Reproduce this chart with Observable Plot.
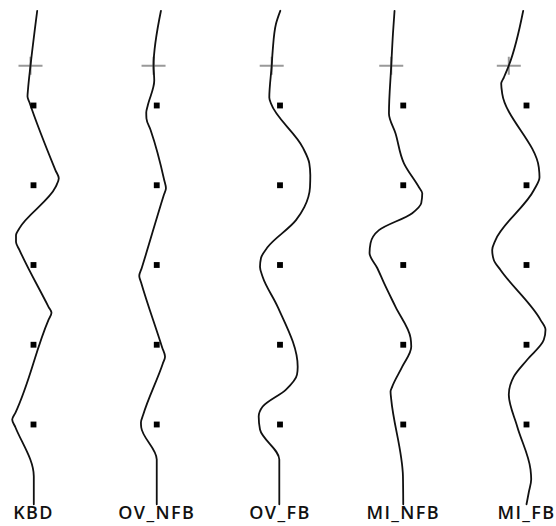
<!DOCTYPE html>
<html>
<head>
<meta charset="utf-8">
<script src="https://cdn.jsdelivr.net/npm/d3@7"></script>
<script src="https://cdn.jsdelivr.net/npm/@observablehq/plot@0.6"></script>
<style>
  html, body { margin: 0; padding: 0; background: #fff; }
  #chart svg { display: block; }
</style>
</head>
<body>
<div id="chart"></div>
<script>
// Panel names (bottom labels)
const names = ["KBD", "OV_NFB", "OV_FB", "MI_NFB", "MI_FB"];

// Each trace: [deviation from panel centre, depth]
const KBD = [[3.7,-15],[-3,40],[-5.5,64],[-6,71],[-4,77],[22,145],[25.3,153],[22,162],[-14,203],[-17.5,210],[-17.5,217],[-14,225],[15,282],[18,288],[15,295],[-18,388],[-21.3,395],[-18,403],[0.3,452],[0.3,480]];
const OV_NFB = [[4.2,-15],[-3.2,40],[-2.5,55],[-9,80],[-10.5,87],[-10.3,93],[-6,105],[7.5,155],[9.2,163],[7,170],[-15,243],[-17.5,251],[-15.5,258],[5.5,323],[8.3,332],[6,339],[-13.5,390],[-15.8,398],[-15.5,403],[0,435],[0,480]];
const OV_FB = [[0.3,-15],[-4,-2],[-7.3,25],[-8.3,40],[-10.7,72],[-9,78],[22.7,122],[29.3,138],[30.3,150],[30,162],[24.3,182],[16,195],[-12.3,222],[-19,233],[-20,242],[-17.3,252],[-2.3,282],[17.7,342],[17,350],[6,365],[-17.3,382],[-21.3,392],[-20,405],[-0.7,435],[-0.7,480]];
const MI_NFB = [[-8.7,-15],[-10.3,8],[-12,40],[-14.3,88],[-7.7,108],[0.7,138],[15.7,162],[19,168],[18,178],[9,188],[-24.3,205],[-32.7,218],[-33.7,228],[-26,243],[-19.3,258],[-7.7,282],[7.3,313],[8,322],[-1,342],[-11,362],[-12.7,367],[-12,375],[-0.3,452],[0,480]];
const MI_FB = [[-3.3,-15],[-17.7,40],[-22.7,52],[-25.3,58],[-24.3,68],[12.3,142],[13,152],[7.3,165],[-31,215],[-34.3,225],[-32.7,235],[-26,245],[14,295],[19,305],[17.3,315],[0.7,335],[-12.7,352],[-17.7,370],[-9.3,402],[4,445],[4.7,455],[2.3,468],[0,480]];
const traces = [KBD, OV_NFB, OV_FB, MI_NFB, MI_FB];

// Square markers (depths) and the grey cross (depth, deviation per panel)
const markerDepths = [80, 160, 240, 320, 400];
const crossDepth = 40;
const crossDev = [-3, -3.2, -8.3, -12, -17.7];

// ---- build tables ----
const SPACING = 123.25;
const lineData = traces.flatMap((t, i) => t.map(([dev, depth]) => ({panel: names[i], x: i * SPACING + dev, y: depth})));
const markerData = names.flatMap((n, i) => markerDepths.map(d => ({panel: n, x: i * SPACING, y: d})));
const crossData = names.map((n, i) => ({panel: n, x: i * SPACING + crossDev[i], y: crossDepth}));

const crossSymbol = {
  draw(ctx, size) {
    const r = Math.sqrt(size / Math.PI);
    ctx.moveTo(-r, 0); ctx.lineTo(r, 0);
    ctx.moveTo(0, -r * 0.75); ctx.lineTo(0, r * 0.75);
  }
};

const chart = Plot.plot({
  width: 556,
  height: 526,
  marginLeft: 33,
  marginRight: 30,
  marginTop: 25.25,
  marginBottom: 22.25,
  style: {fontFamily: "'Open Sans', sans-serif", background: "#fff"},
  x: {domain: [0, 4 * SPACING]},
  y: {domain: [0, 480], reverse: true, axis: null},
  marks: [
    Plot.dot(crossData, {x: "x", y: "y", symbol: crossSymbol, r: 12, stroke: "#999", strokeWidth: 2, fill: "none"}),
    Plot.line(lineData, {x: "x", y: "y", z: "panel", curve: "monotone-y", stroke: "#111", strokeWidth: 1.8}),
    Plot.dot(markerData, {x: "x", y: "y", symbol: "square", r: 3.3, fill: "#000", stroke: "none"}),
    Plot.axisX(names.map((n, i) => i * SPACING), {
      tickSize: 0,
      tickPadding: 2,
      tickFormat: v => names[Math.round(v / SPACING)],
      fontSize: 18,
      fontWeight: 600,
      fill: "#111",
      label: null
    })
  ]
});
chart.querySelectorAll("text").forEach(t => t.style.letterSpacing = "1.4px");
document.getElementById("chart").appendChild(chart);
</script>
</body>
</html>
